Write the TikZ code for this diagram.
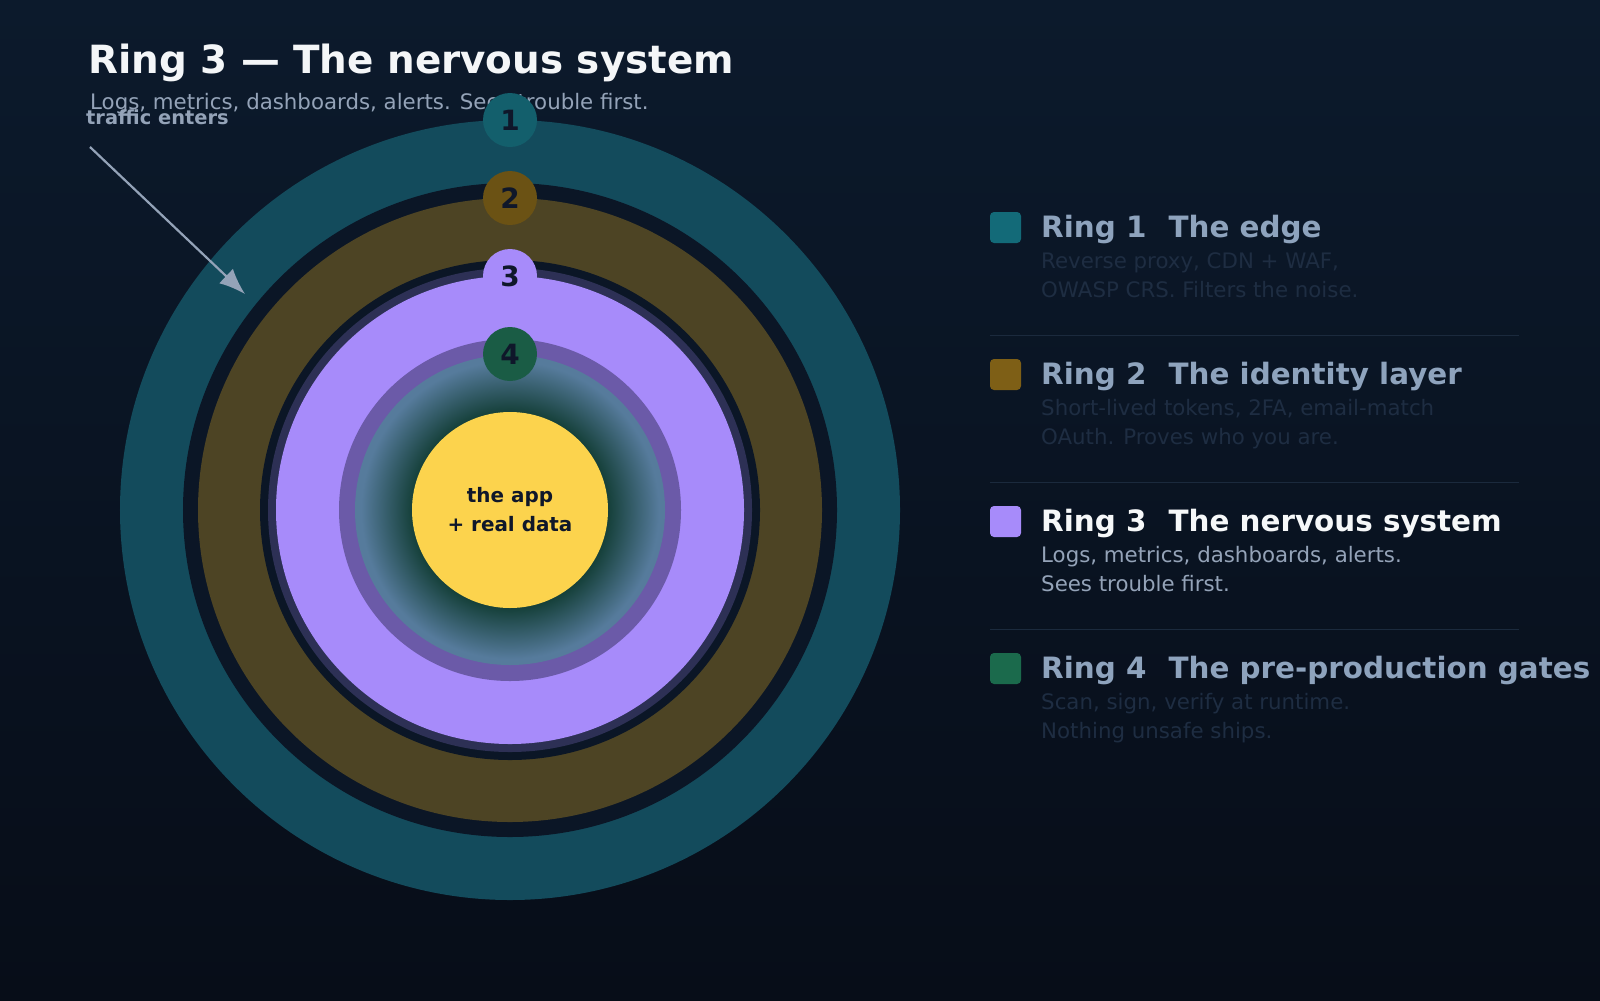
\documentclass[tikz,border=0pt]{standalone}
\usepackage{fontspec}
\setmainfont{DejaVu Sans}
\usetikzlibrary{arrows.meta}
\definecolor{bgtop}{HTML}{0C1A2C}
\definecolor{bgbot}{HTML}{070D18}
\definecolor{gap}{HTML}{0B1626}
\definecolor{ringa}{HTML}{134B5C}
\definecolor{ringb}{HTML}{4D4424}
\definecolor{ringc}{HTML}{A78BFA}
\definecolor{ringd}{HTML}{6B5AA8}
\definecolor{badgea}{HTML}{135F6C}
\definecolor{badgeb}{HTML}{6B5214}
\definecolor{badged}{HTML}{1A5C45}
\definecolor{sqa}{HTML}{136A78}
\definecolor{sqb}{HTML}{7E5F16}
\definecolor{sqd}{HTML}{1B6A4C}
\definecolor{core}{HTML}{FCD34D}
\definecolor{ink}{HTML}{0F172A}
\definecolor{muted}{HTML}{94A3B8}
\definecolor{headoff}{HTML}{8EA3BD}
\definecolor{bodyoff}{HTML}{1E2D42}
\definecolor{rule}{HTML}{1B2A3D}
\definecolor{gdark}{HTML}{0F3A30}
\definecolor{gblue}{HTML}{567B9C}
\pgfdeclareradialshading{inner}{\pgfpoint{0bp}{0bp}}{color(0bp)=(gdark); color(15bp)=(gdark); color(24bp)=(gblue); color(50bp)=(gblue)}
\begin{document}
\begin{tikzpicture}[x=1bp,y=-1bp,
disc/.style={%
circle,
inner sep=0pt,
minimum size=#1,
},
badge/.style={%
circle,
inner sep=0pt,
minimum size=54bp,
text=ink,
font=\fontsize{28}{28}\selectfont\bfseries,
},
swatch/.style={%
rounded corners=4bp,
},
head/.style={%
anchor=base west,
font=\fontsize{29.5}{30}\selectfont\bfseries,
text=headoff,
inner sep=0pt,
},
body/.style={%
anchor=base west,
font=\fontsize{21.4}{22}\selectfont,
text=bodyoff,
inner sep=0pt,
},
]
%% Background
\useasboundingbox (0,0) rectangle (1600,1000);
\shade[top color=bgtop,bottom color=bgbot] (0,0) rectangle (1600,1000);
%% Title
\node[anchor=base west,inner sep=0pt,text=white!90!muted,font=\fontsize{39}{39}\selectfont\bfseries]
  (title) at (88,73) {Ring 3 — The nervous system};
\node[anchor=base west,inner sep=0pt,text=muted,font=\fontsize{21.4}{22}\selectfont]
  (subtitle) at (90,109) {Logs, metrics, dashboards, alerts. Sees trouble first.};
%% Rings
\node[disc=780bp,fill=ringa] (ring1) at (510,510) {};
\node[disc=654bp,fill=gap] (gap1) at (510,510) {};
\node[disc=624bp,fill=ringb] (ring2) at (510,510) {};
\node[disc=500bp,fill=gap] (gap2) at (510,510) {};
\node[disc=484bp,fill=ringc!22!gap] (glow) at (510,510) {};
\node[disc=468bp,fill=ringc] (ring3) at (510,510) {};
\node[disc=342bp,fill=ringd] (ring4) at (510,510) {};
\node[disc=310bp,shading=inner] (inner) at (510,510) {};
\node[disc=196bp,fill=core,text=ink,align=center,
  font=\fontsize{20}{29}\selectfont\bfseries] (app) at (510,510) {the app\\+ real data};
%% Badges
\node[badge,fill=badgea] (b1) at (510,120) {1};
\node[badge,fill=badgeb] (b2) at (510,198) {2};
\node[badge,fill=ringc] (b3) at (510,276) {3};
\node[badge,fill=badged] (b4) at (510,354) {4};
%% Traffic arrow
\node[anchor=base west,inner sep=0pt,text=muted,font=\fontsize{19.5}{20}\selectfont\bfseries]
  (traffic) at (86,124) {traffic enters};
\coordinate (tin) at (90,147);
\coordinate (tout) at (245,294);
\draw[-{Latex[length=26bp,width=20bp]},muted,line width=2.2bp] (tin)--(tout);
%% Legend
\foreach \i/\sq/\hd/\la/\lb in {%
0/sqa/{The edge}/{Reverse proxy, CDN + WAF,}/{OWASP CRS. Filters the noise.},
1/sqb/{The identity layer}/{Short-lived tokens, 2FA, email-match}/{OAuth. Proves who you are.},
2/ringc/{The nervous system}/{Logs, metrics, dashboards, alerts.}/{Sees trouble first.},
3/sqd/{The pre-production gates}/{Scan, sign, verify at runtime.}/{Nothing unsafe ships.}}{%
\pgfmathtruncatemacro\n{\i+1}
\fill[swatch,\sq] (990,212+147*\i) rectangle (1021,243+147*\i);
\ifnum\i=2
\node[head,text=white!92!muted] (h\n) at (1041,237+147*\i) {Ring \n\hspace{22bp}\hd};
\node[body,text=muted] (d\n a) at (1041,268+147*\i) {\la};
\node[body,text=muted] (d\n b) at (1041,297+147*\i) {\lb};
\else
\node[head] (h\n) at (1041,237+147*\i) {Ring \n\hspace{22bp}\hd};
\node[body] (d\n a) at (1041,268+147*\i) {\la};
\node[body] (d\n b) at (1041,297+147*\i) {\lb};
\fi
}
\foreach \y in {335,482,629}{%
\draw[rule,line width=1bp] (990,\y)--(1519,\y);
}
\end{tikzpicture}
\end{document}
